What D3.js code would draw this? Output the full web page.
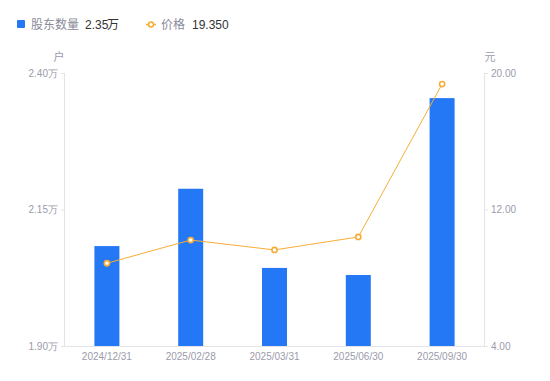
<!DOCTYPE html>
<html><head><meta charset="utf-8">
<script src="https://cdn.jsdelivr.net/npm/d3@7"></script>
<style>body{margin:0;background:#fff;font-family:"Noto Sans CJK SC","Noto Sans",sans-serif}</style>
</head><body><svg id="c" width="550" height="381"></svg>
<script>
const categories = ["2024/12/31","2025/02/28","2025/03/31","2025/06/30","2025/09/30"];
const holders = [2.083, 2.188, 2.043, 2.030, 2.354];
const prices = [8.85, 10.21, 9.63, 10.39, 19.35];
const leftTicks = [1.90, 2.15, 2.40];
const rightTicks = [4, 12, 20];

const svg = d3.select("#c");
const L = 65, R = 484, T = 73, B = 346;
const blue = "#2477f5", orange = "#f8ad35", grayText = "#9b9bab", axisCol = "#e3e3e8";
const x = d3.scaleBand().domain(categories).range([L, R]);
const yL = d3.scaleLinear().domain([1.9, 2.4]).range([B, T]);
const yR = d3.scaleLinear().domain([4, 20]).range([B, T]);

// axes
const ax = d3.axisLeft(yL).tickValues(leftTicks).tickSize(4).tickPadding(3).tickFormat(d => d3.format(".2f")(d) + "万");
const gL = svg.append("g").attr("transform", `translate(${L},0)`).call(ax);
const ar = d3.axisRight(yR).tickValues(rightTicks).tickSize(4).tickPadding(3).tickFormat(d3.format(".2f"));
const gR = svg.append("g").attr("transform", `translate(${R},0)`).call(ar);
const ab = d3.axisBottom(x).tickSize(0).tickPadding(7);
const gB = svg.append("g").attr("transform", `translate(0,${B})`).call(ab);
[gL, gR, gB].forEach(g => {
  g.selectAll("path.domain").attr("stroke", axisCol);
  g.selectAll(".tick line").attr("stroke", axisCol);
  g.selectAll("text").attr("fill", grayText).style("font-size", "10px").style("font-family", "Liberation Sans, Arial, sans-serif");
});
gL.select("path.domain").attr("d", `M-0.5,${T}V${B}`);
gR.select("path.domain").attr("d", `M0.5,${T}V${B}`);
gB.select("path.domain").attr("d", `M${L},0.5H${R}`);

// bars
const bw = 25;
svg.append("g").selectAll("rect").data(holders).join("rect")
  .attr("x", (d, i) => x(categories[i]) + x.bandwidth() / 2 - bw / 2)
  .attr("y", d => yL(d)).attr("width", bw).attr("height", d => B - yL(d))
  .attr("fill", blue);

// line
const line = d3.line().x((d, i) => x(categories[i]) + x.bandwidth() / 2).y(d => yR(d));
svg.append("path").datum(prices).attr("d", line).attr("fill", "none").attr("stroke", orange).attr("stroke-width", 1);
svg.append("g").selectAll("circle").data(prices).join("circle")
  .attr("cx", (d, i) => x(categories[i]) + x.bandwidth() / 2).attr("cy", d => yR(d))
  .attr("r", 2.6).attr("fill", "#fff").attr("stroke", orange).attr("stroke-width", 1.6);

// units
svg.append("text").attr("x", 59).attr("y", 61).attr("text-anchor", "middle").attr("fill", grayText).style("font-size", "11px").text("户");
svg.append("text").attr("x", 490).attr("y", 61).attr("text-anchor", "middle").attr("fill", grayText).style("font-size", "11px").text("元");

// legend
svg.append("rect").attr("x", 17).attr("y", 20).attr("width", 8).attr("height", 8).attr("rx", 1).attr("fill", blue);
svg.append("text").attr("x", 31).attr("y", 29).attr("fill", "#8a8a99").style("font-size", "12px").text("股东数量");
svg.append("text").attr("x", 85).attr("y", 29).attr("fill", "#333").style("font-size", "12px").style("font-family", "Liberation Sans, Arial, sans-serif").text("2.35");
svg.append("text").attr("x", 107).attr("y", 29).attr("fill", "#333").style("font-size", "12px").text("万");
svg.append("line").attr("x1", 146).attr("x2", 156).attr("y1", 24.5).attr("y2", 24.5).attr("stroke", orange).attr("stroke-width", 1.5);
svg.append("circle").attr("cx", 151).attr("cy", 24.5).attr("r", 2.5).attr("fill", "#fff").attr("stroke", orange).attr("stroke-width", 1.6);
svg.append("text").attr("x", 161).attr("y", 29).attr("fill", "#8a8a99").style("font-size", "12px").text("价格");
svg.append("text").attr("x", 192).attr("y", 29).attr("fill", "#333").style("font-size", "12px").style("font-family", "Liberation Sans, Arial, sans-serif").text("19.350");
</script></body></html>
